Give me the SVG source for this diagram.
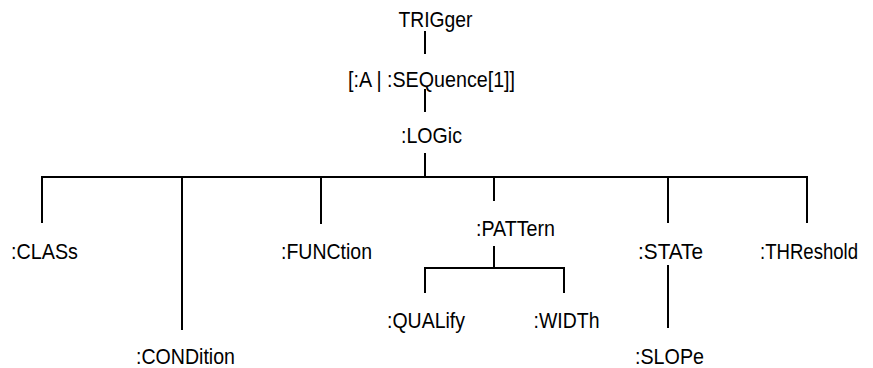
<svg xmlns="http://www.w3.org/2000/svg" width="873" height="368" viewBox="0 0 873 368">
<style>
  text { font-family: "Liberation Sans", Arial, sans-serif; font-size: 22px; fill: #000; }
  .c line { stroke: #000; stroke-width: 2; fill: none; }
</style>
<rect width="873" height="368" fill="#fff"/>
<g id="connectors" class="c">
  <line x1="425" y1="31" x2="425" y2="54"/>
  <line x1="425" y1="89" x2="425" y2="112"/>
  <line x1="425" y1="153" x2="425" y2="177"/>
  <line x1="41" y1="177" x2="808" y2="177"/>
  <line x1="42" y1="177" x2="42" y2="223"/>
  <line x1="182" y1="177" x2="182" y2="330"/>
  <line x1="321" y1="177" x2="321" y2="224"/>
  <line x1="494" y1="177" x2="494" y2="201"/>
  <line x1="668" y1="177" x2="668" y2="223"/>
  <line x1="807" y1="177" x2="807" y2="223"/>
  <line x1="494" y1="246" x2="494" y2="268"/>
  <line x1="424" y1="268" x2="565" y2="268"/>
  <line x1="425" y1="268" x2="425" y2="293"/>
  <line x1="564" y1="268" x2="564" y2="293"/>
  <line x1="668" y1="265" x2="668" y2="328"/>
</g>
<g id="trigger"><text transform="translate(398.5,27) scale(0.88,1)" textLength="84.1" lengthAdjust="spacingAndGlyphs">TRIGger</text></g>
<g id="sequence"><text transform="translate(348,87) scale(0.88,1)" textLength="189.8" lengthAdjust="spacingAndGlyphs">[:A | :SEQuence[1]]</text></g>
<g id="logic"><text transform="translate(401,143) scale(0.88,1)" textLength="69.3" lengthAdjust="spacingAndGlyphs">:LOGic</text></g>
<g id="class"><text transform="translate(11,259) scale(0.88,1)" textLength="76.1" lengthAdjust="spacingAndGlyphs">:CLASs</text></g>
<g id="condition"><text transform="translate(136,364) scale(0.88,1)" textLength="112.5" lengthAdjust="spacingAndGlyphs">:CONDition</text></g>
<g id="function"><text transform="translate(281,259) scale(0.88,1)" textLength="103.4" lengthAdjust="spacingAndGlyphs">:FUNCtion</text></g>
<g id="pattern"><text transform="translate(476,236) scale(0.88,1)" textLength="89.8" lengthAdjust="spacingAndGlyphs">:PATTern</text></g>
<g id="qualify"><text transform="translate(387,328) scale(0.88,1)" textLength="88.6" lengthAdjust="spacingAndGlyphs">:QUALify</text></g>
<g id="width"><text transform="translate(533.5,328) scale(0.88,1)" textLength="75" lengthAdjust="spacingAndGlyphs">:WIDTh</text></g>
<g id="state"><text transform="translate(638,259) scale(0.88,1)" textLength="73.9" lengthAdjust="spacingAndGlyphs">:STATe</text></g>
<g id="threshold"><text transform="translate(760,259) scale(0.88,1)" textLength="111.4" lengthAdjust="spacingAndGlyphs">:THReshold</text></g>
<g id="slope"><text transform="translate(635,364) scale(0.88,1)" textLength="78.4" lengthAdjust="spacingAndGlyphs">:SLOPe</text></g>
</svg>
